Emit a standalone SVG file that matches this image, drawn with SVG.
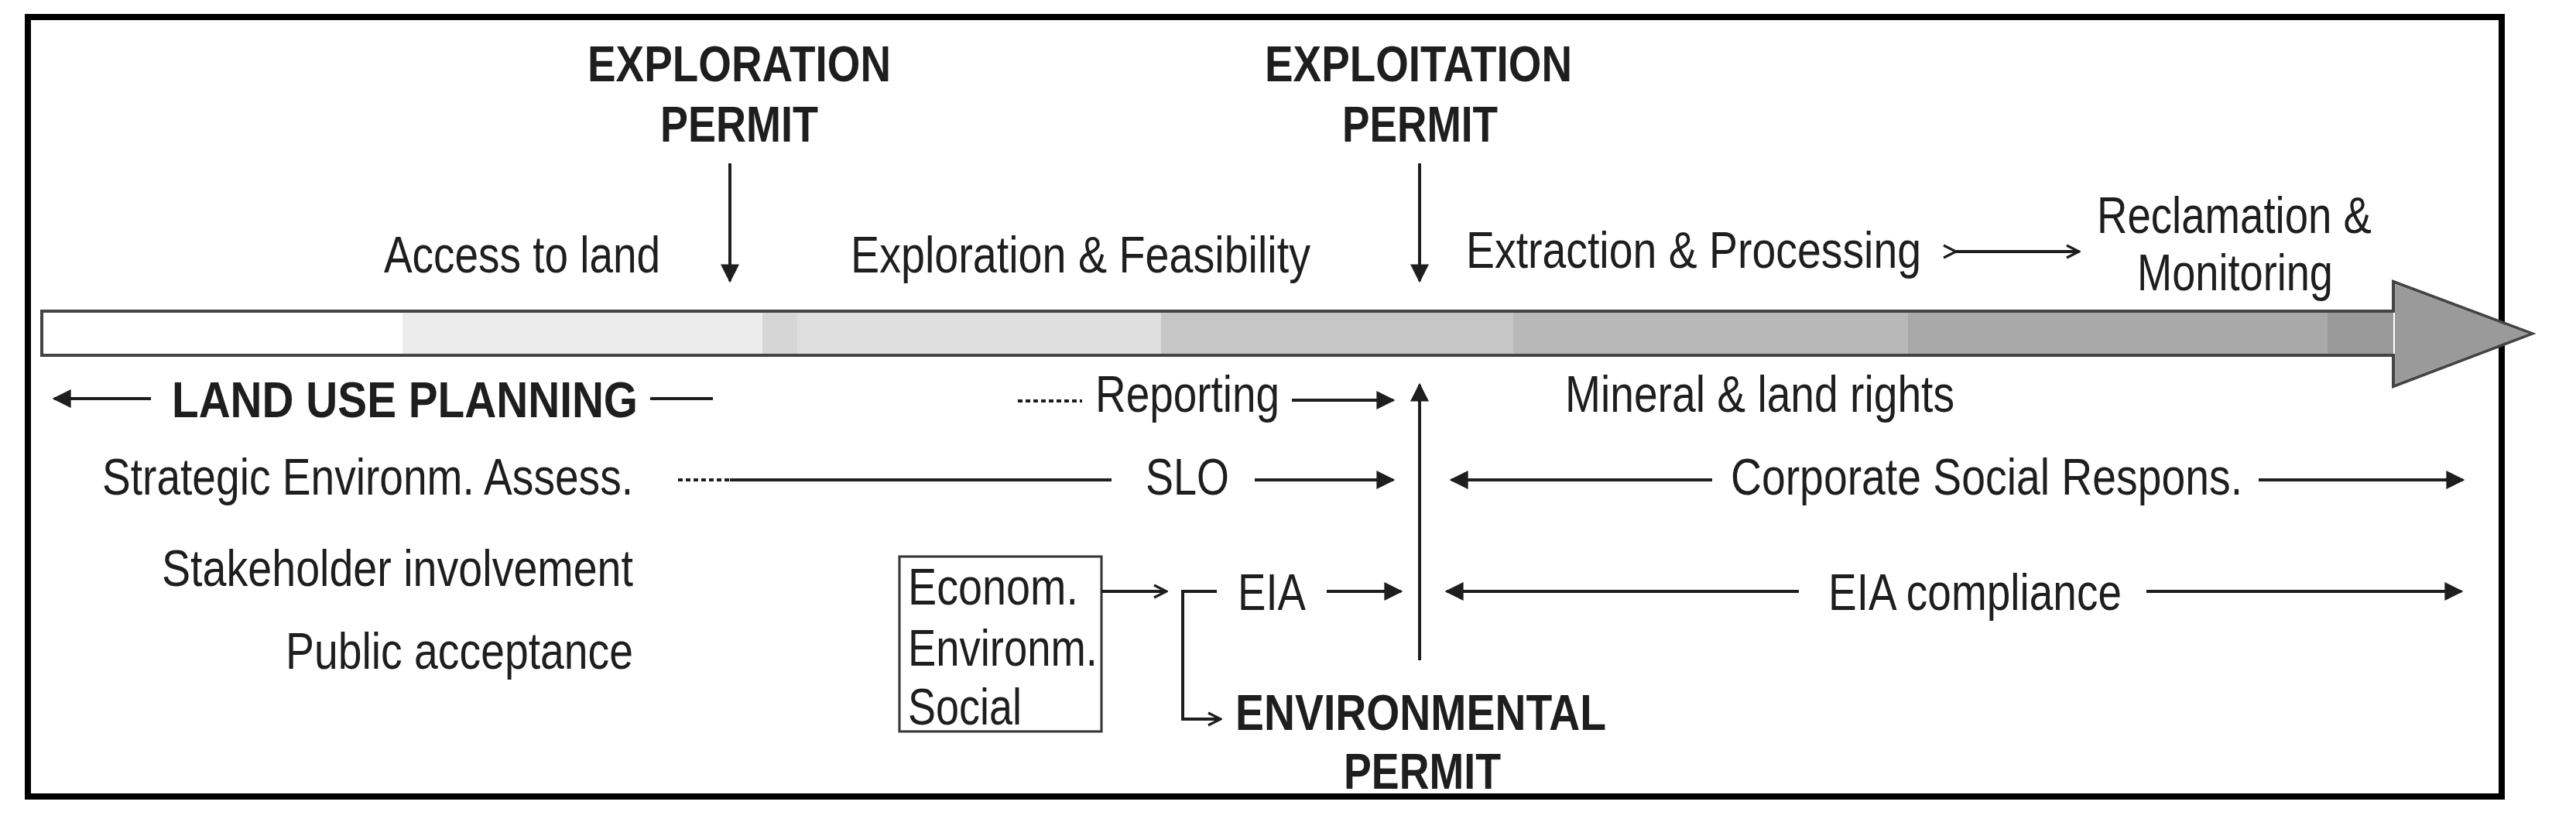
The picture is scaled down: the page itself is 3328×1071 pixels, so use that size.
<svg xmlns="http://www.w3.org/2000/svg" width="3328" height="1071" viewBox="0 0 3328 1071">
<style>
text{font-family:"Liberation Sans",Arial,sans-serif;fill:#1e1e1e;font-size:66px}
.b{font-weight:bold;font-size:64px}
.l{stroke:#1e1e1e;stroke-width:4;fill:none}
.d{stroke:#1e1e1e;stroke-width:4;fill:none;stroke-dasharray:6 4}
</style>
<defs>
<marker id="a" viewBox="0 0 10 10" refX="9" refY="5" markerWidth="6" markerHeight="6" orient="auto-start-reverse" markerUnits="strokeWidth"><path d="M0,0L10,5L0,10z" fill="#1e1e1e"/></marker>
<marker id="o" viewBox="0 0 10 10" refX="9" refY="5" markerWidth="5" markerHeight="5" orient="auto" markerUnits="strokeWidth"><path d="M1,1L9,5L1,9" fill="none" stroke="#1e1e1e" stroke-width="1.6"/></marker>
</defs>
<rect x="0" y="0" width="3328" height="1071" fill="#fff"/>
<rect x="36" y="22" width="3196" height="1007" fill="none" stroke="#000" stroke-width="8"/>
<g id="timeline">
<rect x="54" y="402" width="466" height="57" fill="#ffffff"/>
<rect x="520" y="402" width="465" height="57" fill="#ececec"/>
<rect x="985" y="402" width="45" height="57" fill="#d6d6d6"/>
<rect x="1030" y="402" width="470" height="57" fill="#dedede"/>
<rect x="1500" y="402" width="455" height="57" fill="#c6c6c6"/>
<rect x="1955" y="402" width="510" height="57" fill="#b8b8b8"/>
<rect x="2465" y="402" width="542" height="57" fill="#a9a9a9"/>
<rect x="3007" y="402" width="85" height="57" fill="#999999"/>
<path d="M54,402H3092V364L3271,431L3092,499V459H54Z" fill="none" stroke="#444" stroke-width="4"/>
<path d="M3094,367L3267,431L3094,496Z" fill="#9a9a9a"/>
</g>
<g id="exploration-permit"><text class="b" x="759" y="105" textLength="392" lengthAdjust="spacingAndGlyphs">EXPLORATION</text><text class="b" x="853" y="183" textLength="204" lengthAdjust="spacingAndGlyphs">PERMIT</text></g>
<g id="exploitation-permit"><text class="b" x="1634" y="105" textLength="397" lengthAdjust="spacingAndGlyphs">EXPLOITATION</text><text class="b" x="1734" y="183" textLength="201" lengthAdjust="spacingAndGlyphs">PERMIT</text></g>
<g id="environmental-permit"><text class="b" x="1596" y="943" textLength="479" lengthAdjust="spacingAndGlyphs">ENVIRONMENTAL</text><text class="b" x="1736" y="1019" textLength="203" lengthAdjust="spacingAndGlyphs">PERMIT</text></g>
<g id="phases">
<text x="496" y="352" textLength="357" lengthAdjust="spacingAndGlyphs">Access to land</text>
<text x="1099" y="352" textLength="594" lengthAdjust="spacingAndGlyphs">Exploration &amp; Feasibility</text>
<text x="1894" y="346" textLength="588" lengthAdjust="spacingAndGlyphs">Extraction &amp; Processing</text>
<text x="2709" y="301" textLength="355" lengthAdjust="spacingAndGlyphs">Reclamation &amp;</text>
<text x="2761" y="375" textLength="253" lengthAdjust="spacingAndGlyphs">Monitoring</text>
</g>
<g id="land-use"><text class="b" x="222" y="539" font-size="67" textLength="602" lengthAdjust="spacingAndGlyphs">LAND USE  PLANNING</text></g>
<g id="left-labels">
<text x="132" y="639" textLength="686" lengthAdjust="spacingAndGlyphs">Strategic Environm. Assess.</text>
<text x="209" y="757" textLength="609" lengthAdjust="spacingAndGlyphs">Stakeholder involvement</text>
<text x="369" y="864" textLength="449" lengthAdjust="spacingAndGlyphs">Public acceptance</text>
</g>
<g id="mid-labels">
<text x="1415" y="532" textLength="238" lengthAdjust="spacingAndGlyphs">Reporting</text>
<text x="1480" y="639" textLength="108" lengthAdjust="spacingAndGlyphs">SLO</text>
<text x="1599" y="788" textLength="88" lengthAdjust="spacingAndGlyphs">EIA</text>
<text x="2022" y="532" textLength="503" lengthAdjust="spacingAndGlyphs">Mineral &amp; land rights</text>
<text x="2236" y="639" textLength="661" lengthAdjust="spacingAndGlyphs">Corporate Social Respons.</text>
<text x="2362" y="788" textLength="379" lengthAdjust="spacingAndGlyphs">EIA compliance</text>
</g>
<g id="box">
<rect x="1162" y="719" width="261" height="226" fill="none" stroke="#333" stroke-width="3"/>
<text x="1173" y="781" textLength="220" lengthAdjust="spacingAndGlyphs">Econom.</text>
<text x="1173" y="860" textLength="245" lengthAdjust="spacingAndGlyphs">Environm.</text>
<text x="1173" y="936" textLength="147" lengthAdjust="spacingAndGlyphs">Social</text>
</g>
<g id="connectors">
<line class="l" x1="943" y1="211" x2="943" y2="363" marker-end="url(#a)"/>
<line class="l" x1="1834" y1="211" x2="1834" y2="363" marker-end="url(#a)"/>
<line class="l" x1="1834" y1="853" x2="1834" y2="497" marker-end="url(#a)"/>
<line class="l" x1="195" y1="515" x2="70" y2="515" marker-end="url(#a)"/>
<line class="l" x1="840" y1="515" x2="921" y2="515"/>
<line class="d" x1="1315" y1="518" x2="1398" y2="518"/>
<line class="l" x1="1669" y1="517" x2="1800" y2="517" marker-end="url(#a)"/>
<line class="d" x1="876" y1="620" x2="943" y2="620"/>
<line class="l" x1="943" y1="620" x2="1436" y2="620"/>
<line class="l" x1="1621" y1="620" x2="1800" y2="620" marker-end="url(#a)"/>
<line class="l" x1="2212" y1="620" x2="1875" y2="620" marker-end="url(#a)"/>
<line class="l" x1="2918" y1="620" x2="3182" y2="620" marker-end="url(#a)"/>
<line class="l" x1="1714" y1="764" x2="1810" y2="764" marker-end="url(#a)"/>
<line class="l" x1="2324" y1="764" x2="1869" y2="764" marker-end="url(#a)"/>
<line class="l" x1="2773" y1="764" x2="3180" y2="764" marker-end="url(#a)"/>
<line class="l" x1="2527" y1="325" x2="2686" y2="325" marker-start="url(#o)" marker-end="url(#o)"/>
<line class="l" x1="1423" y1="764" x2="1507" y2="764" marker-end="url(#o)"/>
<path class="l" d="M1572,764H1528V929H1577" marker-end="url(#o)"/>
</g>
</svg>
